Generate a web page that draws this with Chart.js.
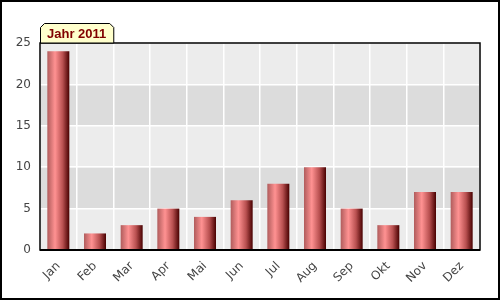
<!DOCTYPE html>
<html>
<head>
<meta charset="utf-8">
<script src="https://cdn.jsdelivr.net/npm/chart.js@4"></script>
<style>
  html, body { margin: 0; padding: 0; background: #fff; }
  #wrap { width: 500px; height: 300px; }
</style>
</head>
<body>
<div id="wrap"><canvas id="monthChart" width="500" height="300"></canvas></div>
<script>
// Data
const months = ['Jan', 'Feb', 'Mar', 'Apr', 'Mai', 'Jun', 'Jul', 'Aug', 'Sep', 'Okt', 'Nov', 'Dez'];
const counts = [24, 2, 3, 5, 4, 6, 8, 10, 5, 3, 7, 7];
const yTicks = [0, 5, 10, 15, 20, 25];
const titleText = 'Jahr 2011';

// bar colour: horizontal shading across each bar
function barGradient(context) {
  const chart = context.chart;
  const xScale = chart.scales.x;
  if (!xScale || !chart.chartArea) return '#d06060';
  const cx = xScale.getPixelForValue(context.dataIndex);
  const half = (xScale.width / months.length) * 0.6 / 2;
  const g = chart.ctx.createLinearGradient(cx - half, 0, cx + half, 0);
  g.addColorStop(0, '#b05c5c');
  g.addColorStop(0.35, '#ff9292');
  g.addColorStop(0.7, '#b85050');
  g.addColorStop(1, '#480000');
  return g;
}

// alternating bands, tab title and borders
const decorPlugin = {
  id: 'decor',
  beforeDraw(chart) {
    const { ctx, chartArea: a, scales: { y } } = chart;
    ctx.save();
    ctx.fillStyle = '#fff';
    ctx.fillRect(0, 0, chart.width, chart.height);
    for (let i = 0; i < yTicks.length - 1; i++) {
      const top = y.getPixelForValue(yTicks[i + 1]);
      const bot = y.getPixelForValue(yTicks[i]);
      ctx.fillStyle = i % 2 === 0 ? '#ececec' : '#dcdcdc';
      ctx.fillRect(a.left, top, a.right - a.left, bot - top);
    }
    ctx.restore();
  },
  afterDraw(chart) {
    const { ctx, chartArea: a } = chart;
    ctx.save();
    // plot frame
    ctx.strokeStyle = '#000';
    ctx.lineWidth = 1.5;
    ctx.strokeRect(a.left, a.top, a.right - a.left, a.bottom - a.top);
    ctx.lineWidth = 2;
    ctx.beginPath();
    ctx.moveTo(a.left, a.bottom);
    ctx.lineTo(a.right, a.bottom);
    ctx.stroke();

    // title tab
    ctx.font = 'bold 13px "Liberation Sans", Arial, sans-serif';
    const tw = ctx.measureText(titleText).width;
    const x0 = a.left + 0.5, x1 = a.left + tw + 14.5, y0 = a.top - 19.5, y1 = a.top;
    ctx.beginPath();
    ctx.moveTo(x0, y1);
    ctx.lineTo(x0, y0 + 4);
    ctx.lineTo(x0 + 4, y0);
    ctx.lineTo(x1 - 4, y0);
    ctx.lineTo(x1, y0 + 4);
    ctx.lineTo(x1, y1);
    ctx.closePath();
    ctx.fillStyle = '#ffffcc';
    ctx.fill();
    ctx.lineWidth = 1;
    ctx.strokeStyle = '#000';
    ctx.stroke();
    ctx.fillStyle = '#800000';
    ctx.textBaseline = 'middle';
    ctx.fillText(titleText, a.left + 7, y0 + 11);

    // outer border
    ctx.lineWidth = 2;
    ctx.strokeRect(1, 1, chart.width - 2, chart.height - 2);
    ctx.restore();
  }
};

const ctx = document.getElementById('monthChart').getContext('2d');
new Chart(ctx, {
  type: 'bar',
  data: {
    labels: months,
    datasets: [{
      data: counts,
      backgroundColor: barGradient,
      borderWidth: 0,
      barPercentage: 0.6,
      categoryPercentage: 1.0
    }]
  },
  options: {
    responsive: false,
    animation: false,
    layout: { padding: { top: 43, right: 20, left: 0, bottom: 0 } },
    plugins: {
      legend: { display: false },
      tooltip: { enabled: false }
    },
    scales: {
      x: {
        grid: { color: '#ffffff', lineWidth: 1.5, drawTicks: false, offset: true },
        border: { display: false },
        ticks: {
          color: '#444',
          font: { family: '"DejaVu Sans", sans-serif', size: 12 },
          minRotation: 45,
          maxRotation: 45,
          padding: 9
        },
        afterFit(scale) { scale.height = 50; }
      },
      y: {
        min: 0,
        max: 25,
        grid: { color: '#ffffff', lineWidth: 1.5, drawTicks: false },
        border: { display: false },
        ticks: {
          stepSize: 5,
          color: '#444',
          font: { family: '"DejaVu Sans", sans-serif', size: 12 },
          padding: 9
        },
        afterFit(scale) { scale.width = 40; }
      }
    }
  },
  plugins: [decorPlugin]
});
</script>
</body>
</html>
